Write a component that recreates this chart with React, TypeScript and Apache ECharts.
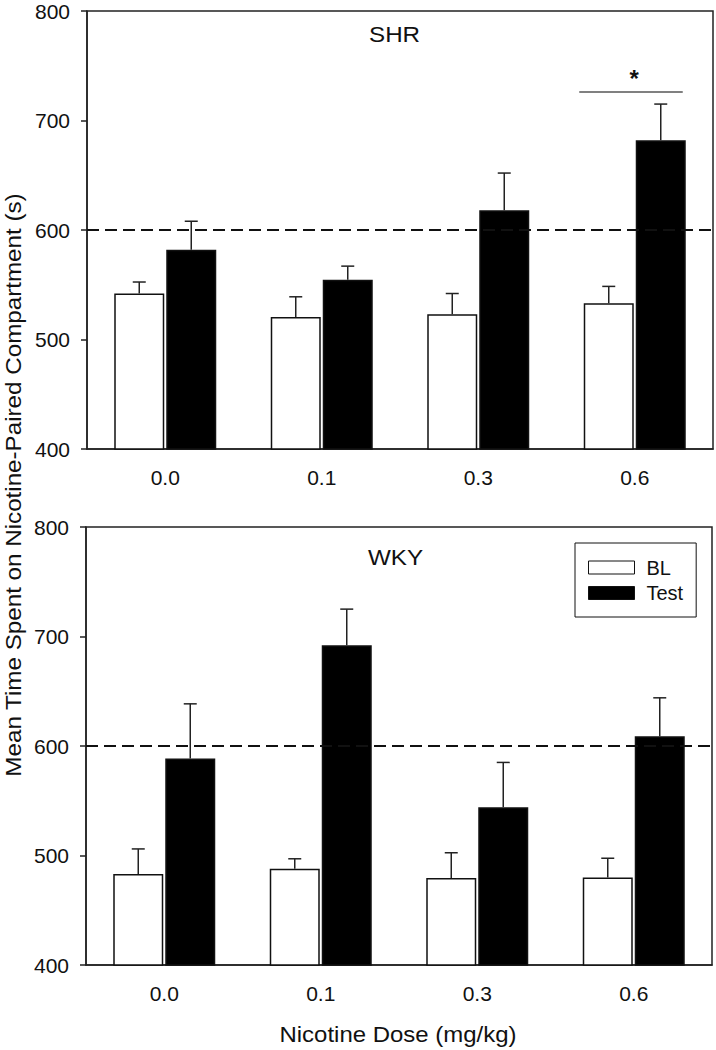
import React, { useEffect, useRef } from "react";
import * as echarts from "echarts";

const categories = ["0.0", "0.1", "0.3", "0.6"];
const shrBL = [542, 520.5, 523, 533];
const shrBLErr = [10.5, 18.5, 19, 15.5];
const shrTest = [582, 554.5, 618, 682];
const shrTestErr = [26, 12.5, 34, 33];
const wkyBL = [483, 488, 479.5, 480];
const wkyBLErr = [23, 9, 23, 17.5];
const wkyTest = [588.5, 692, 544, 609];
const wkyTestErr = [50, 33, 41, 35];
const chanceLevel = 600;
const sigMarks = [[3, 726]];
const yTicks = { min: 400, max: 800, interval: 100 };

const FONT = '"Liberation Sans", Arial, Helvetica, sans-serif';
const INK = "#111";

export default function App() {
  const ref = useRef<HTMLDivElement>(null);
  useEffect(() => {
    if (!ref.current) return;
    const chart = echarts.init(ref.current, null, { renderer: "svg" });

    const grids = [
      { left: 87, right: 3, top: 11, height: 438, show: true, borderColor: "#222", borderWidth: 1.5 },
      { left: 86, right: 4, top: 527, height: 438, show: true, borderColor: "#222", borderWidth: 1.5 },
    ];
    const xAxes = [0, 1].map((i) => ({
      type: "category",
      gridIndex: i,
      data: categories,
      axisLine: { lineStyle: { color: "#222", width: 1.5 } },
      axisTick: { alignWithLabel: true, length: 6, lineStyle: { color: "#222", width: 1.5 } },
      axisLabel: { fontSize: 21, fontFamily: FONT, color: INK, margin: 18 },
      splitLine: { show: false },
    }));
    const yAxes = [0, 1].map((i) => ({
      type: "value",
      gridIndex: i,
      min: yTicks.min,
      max: yTicks.max,
      interval: yTicks.interval,
      axisLine: { show: true, lineStyle: { color: "#222", width: 1.5 } },
      axisTick: { show: true, length: 6, lineStyle: { color: "#222", width: 1.5 } },
      axisLabel: { fontSize: 21, fontFamily: FONT, color: INK, margin: 17 },
      splitLine: { show: false },
    }));

    const errSeries = (gi: number, vals: number[], errs: number[], offset: number) => ({
      type: "custom",
      xAxisIndex: gi,
      yAxisIndex: gi,
      silent: true,
      z: 5,
      data: vals.map((v, i) => [i, v, errs[i]]),
      encode: { x: 0, y: 1 },
      renderItem: (params: any, api: any) => {
        const idx = api.value(0);
        const v = api.value(1);
        const e = api.value(2);
        const base = api.coord([idx, v]);
        const top = api.coord([idx, v + e]);
        const x = base[0] + offset;
        const st = { stroke: "#222", lineWidth: 1.5 };
        return {
          type: "group",
          children: [
            { type: "line", shape: { x1: x, y1: base[1], x2: x, y2: top[1] }, style: st },
            { type: "line", shape: { x1: x - 6.5, y1: top[1], x2: x + 6.5, y2: top[1] }, style: st },
          ],
        };
      },
    });

    const dashed = {
      silent: true,
      symbol: ["none", "none"],
      label: { show: false },
      lineStyle: { type: [12, 6], width: 2, color: INK },
      data: [{ yAxis: chanceLevel }],
    };

    const barSeries = (gi: number, name: string, vals: number[], fill: string, withLine: boolean) => ({
      type: "bar",
      name,
      xAxisIndex: gi,
      yAxisIndex: gi,
      data: vals,
      barWidth: 50,
      barGap: "4%",
      itemStyle: { color: fill, borderColor: INK, borderWidth: 1.5 },
      markLine: withLine ? dashed : undefined,
      z: 2,
    });

    const sigSeries = {
      type: "custom",
      xAxisIndex: 0,
      yAxisIndex: 0,
      silent: true,
      data: sigMarks,
      encode: { x: 0, y: 1 },
      renderItem: (params: any, api: any) => {
        const p = api.coord([api.value(0), api.value(1)]);
        return {
          type: "group",
          children: [
            {
              type: "line",
              shape: { x1: p[0] - 55.5, y1: p[1], x2: p[0] + 48, y2: p[1] },
              style: { stroke: "#808080", lineWidth: 2 },
            },
            {
              type: "text",
              x: p[0] - 0.5,
              y: p[1] - 14,
              style: {
                text: "*",
                fontSize: 24,
                fontWeight: "bold",
                fontFamily: FONT,
                fill: INK,
                align: "center",
                verticalAlign: "middle",
              },
            },
          ],
        };
      },
    };

    chart.setOption({
      animation: false,
      backgroundColor: "#fff",
      grid: grids,
      xAxis: xAxes,
      yAxis: yAxes,
      legend: {
        left: 575,
        top: 543,
        orient: "vertical",
        itemWidth: 46,
        itemHeight: 13,
        itemGap: 5.5,
        padding: [14.5, 13, 14, 13],
        borderColor: INK,
        borderWidth: 1,
        backgroundColor: "#fff",
        selectedMode: false,
        icon: "rect",
        textStyle: { fontSize: 20, fontFamily: FONT, color: INK, padding: [0, 0, 0, 7] },
        data: [
          { name: "BL", itemStyle: { color: "#fff", borderColor: INK, borderWidth: 1 } },
          { name: "Test", itemStyle: { color: "#000", borderColor: INK, borderWidth: 1 } },
        ],
      },
      graphic: [
        {
          type: "text",
          x: 13,
          y: 485,
          rotation: Math.PI / 2,
          scaleX: 1.1,
          style: {
            text: "Mean Time Spent on Nicotine-Paired Compartment (s)",
            fontSize: 22,
            fontFamily: FONT,
            fill: INK,
            textAlign: "center",
            textVerticalAlign: "middle",
          },
        },
        {
          type: "text",
          x: 398,
          y: 1034,
          scaleX: 1.09,
          style: {
            text: "Nicotine Dose (mg/kg)",
            fontSize: 22,
            fontFamily: FONT,
            fill: INK,
            textAlign: "center",
            textVerticalAlign: "middle",
          },
        },
        {
          type: "text",
          x: 369,
          y: 34,
          scaleX: 1.1,
          style: { text: "SHR", fontSize: 22, fontFamily: FONT, fill: INK, textAlign: "left", textVerticalAlign: "middle" },
        },
        {
          type: "text",
          x: 368,
          y: 557,
          scaleX: 1.1,
          style: { text: "WKY", fontSize: 22, fontFamily: FONT, fill: INK, textAlign: "left", textVerticalAlign: "middle" },
        },
      ],
      series: [
        barSeries(0, "BL", shrBL, "#fff", false),
        barSeries(0, "Test", shrTest, "#000", true),
        barSeries(1, "BL", wkyBL, "#fff", false),
        barSeries(1, "Test", wkyTest, "#000", true),
        errSeries(0, shrBL, shrBLErr, -26),
        errSeries(0, shrTest, shrTestErr, 26),
        errSeries(1, wkyBL, wkyBLErr, -26),
        errSeries(1, wkyTest, wkyTestErr, 26),
        sigSeries,
      ],
    });
    return () => chart.dispose();
  }, []);
  return (
    <div
      ref={ref}
      style={{ position: "absolute", left: 0, top: 0, width: 716, height: 1050, background: "#fff" }}
    />
  );
}
